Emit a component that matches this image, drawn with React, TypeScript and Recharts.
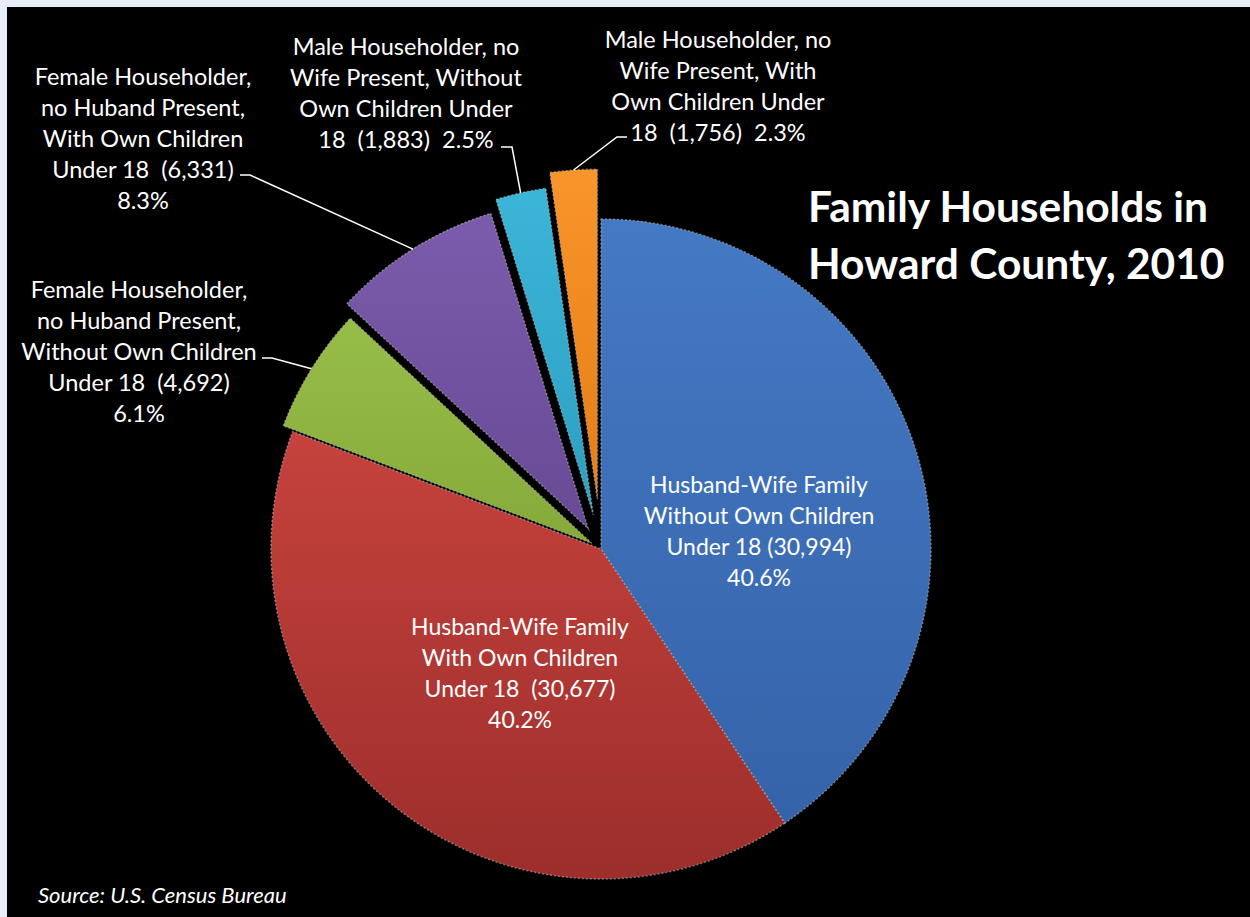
import { PieChart, Pie, Cell } from 'recharts';

// Family households, Howard County 2010 (clockwise from 12 o'clock)
const CATEGORIES = [
  'Husband-Wife Family Without Own Children Under 18',
  'Husband-Wife Family With Own Children Under 18',
  'Female Householder, no Huband Present, Without Own Children Under 18',
  'Female Householder, no Huband Present, With Own Children Under 18',
  'Male Householder, no Wife Present, Without Own Children Under 18',
  'Male Householder, no Wife Present, With Own Children Under 18',
];
const HOUSEHOLDS = [30994, 30677, 4692, 6331, 1883, 1756];

// how each label wraps; {v} = count, {p} = percent
const LABEL_LINES = [
  ['Husband-Wife Family', 'Without Own Children', 'Under 18 ({v})', '{p}'],
  ['Husband-Wife Family', 'With Own Children', 'Under 18  ({v})', '{p}'],
  ['Female Householder,', 'no Huband Present,', 'Without Own Children', 'Under 18  ({v})', '{p}'],
  ['Female Householder,', 'no Huband Present,', 'With Own Children', 'Under 18  ({v})', '{p}'],
  ['Male Householder, no', 'Wife Present, Without', 'Own Children Under', '18  ({v})  {p}'],
  ['Male Householder, no', 'Wife Present, With', 'Own Children Under', '18  ({v})  {p}'],
];

const TOP_COLORS = ['#4479c4', '#c6423d', '#97bd49', '#7b5bab', '#3bb5d8', '#f8952b'];
const BOTTOM_COLORS = ['#3563a9', '#9c2e2b', '#86aa3a', '#684a96', '#2d9fc1', '#e57d16'];

const W = 1250;
const H = 917;
const CX = 601;
const CY = 549;
const R = 330;
const EXPLODE = [0, 0, 11, 24, 35, 50];
const LINE_GAP = 31;
const FONT = 'Lato, "Open Sans", sans-serif';

type LabelPos = { x: number; y: number; size: number; elbow?: [number, number]; end?: number };
const LABEL_POS: LabelPos[] = [
  { x: 759, y: 485, size: 23 },
  { x: 520, y: 627, size: 23 },
  { x: 139, y: 290, size: 23.5, elbow: [272, 358], end: 262 },
  { x: 143, y: 77, size: 23.5, elbow: [250, 175], end: 240 },
  { x: 406, y: 47, size: 23.5, elbow: [512, 147], end: 501 },
  { x: 718, y: 40, size: 23.5, elbow: [617, 137], end: 627 },
];

const total = HOUSEHOLDS.reduce((a, b) => a + b, 0);
const data = CATEGORIES.map((name, i) => ({ name, value: HOUSEHOLDS[i] }));

const RAD = Math.PI / 180;
let acc = 0;
const midAngles = HOUSEHOLDS.map((v) => {
  const m = 90 - (360 * (acc + v / 2)) / total;
  acc += v;
  return m;
});

const fillText = (t: string, i: number) =>
  t
    .replace('{v}', HOUSEHOLDS[i].toLocaleString('en-US'))
    .replace('{p}', ((HOUSEHOLDS[i] / total) * 100).toFixed(1) + '%');

const makeLabel = (i: number) => (p: any) => {
  if (p.index !== i) return null;
  const lp = LABEL_POS[i];
  let leader = null;
  if (lp.elbow) {
    const sx = p.cx + p.outerRadius * Math.cos(-p.midAngle * RAD);
    const sy = p.cy + p.outerRadius * Math.sin(-p.midAngle * RAD);
    leader = (
      <polyline
        points={`${sx},${sy} ${lp.elbow[0]},${lp.elbow[1]} ${lp.end},${lp.elbow[1]}`}
        fill="none"
        stroke="#ffffff"
        strokeWidth={1.5}
      />
    );
  }
  return (
    <g>
      {leader}
      <text
        fill="#ffffff"
        fontSize={lp.size}
        fontFamily={FONT}
        textAnchor="middle"
        style={{ whiteSpace: 'pre' }}
      >
        {LABEL_LINES[i].map((t, k) => (
          <tspan key={k} x={lp.x} y={lp.y + k * LINE_GAP + 8}>
            {fillText(t, i)}
          </tspan>
        ))}
      </text>
    </g>
  );
};

export default function App() {
  return (
    <div style={{ position: 'relative', width: W, height: H, background: '#e6eefb', overflow: 'hidden' }}>
      <style>{'body{margin:0}'}</style>
      <div style={{ position: 'absolute', left: 7, top: 7, right: 0, bottom: 0, background: '#000' }} />
      <div style={{ position: 'absolute', left: 0, top: 0 }}>
        <PieChart width={W} height={H} margin={{ top: 0, right: 0, bottom: 0, left: 0 }}>
          <defs>
            {TOP_COLORS.map((c, i) => (
              <linearGradient key={i} id={`slice${i}`} x1="0" y1="0" x2="0" y2="1">
                <stop offset="0%" stopColor={c} />
                <stop offset="100%" stopColor={BOTTOM_COLORS[i]} />
              </linearGradient>
            ))}
          </defs>
          {HOUSEHOLDS.map((_, i) => (
            <Pie
              key={i}
              data={data}
              dataKey="value"
              nameKey="name"
              cx={CX + EXPLODE[i] * Math.cos(midAngles[i] * RAD)}
              cy={CY - EXPLODE[i] * Math.sin(midAngles[i] * RAD)}
              outerRadius={R}
              startAngle={90}
              endAngle={-270}
              isAnimationActive={false}
              labelLine={false}
              label={makeLabel(i)}
            >
              {data.map((d, k) => (
                <Cell
                  key={k}
                  fill={k === i ? `url(#slice${i})` : 'transparent'}
                  stroke={k === i ? 'rgba(190,190,190,0.55)' : 'none'}
                  strokeWidth={k === i ? 1.5 : 0}
                  strokeDasharray={k === i ? '2 2' : undefined}
                />
              ))}
            </Pie>
          ))}
        </PieChart>
      </div>
      <div
        style={{
          position: 'absolute',
          left: 808,
          top: 177,
          color: '#fff',
          fontFamily: FONT,
          fontWeight: 700,
          fontSize: 42.5,
          lineHeight: '57px',
          whiteSpace: 'nowrap',
        }}
      >
        Family Households in
        <br />
        Howard County, 2010
      </div>
      <div
        style={{
          position: 'absolute',
          left: 38,
          top: 881,
          color: '#fff',
          fontFamily: FONT,
          fontStyle: 'italic',
          fontSize: 22,
          lineHeight: '28px',
          whiteSpace: 'nowrap',
        }}
      >
        Source: U.S. Census Bureau
      </div>
    </div>
  );
}
